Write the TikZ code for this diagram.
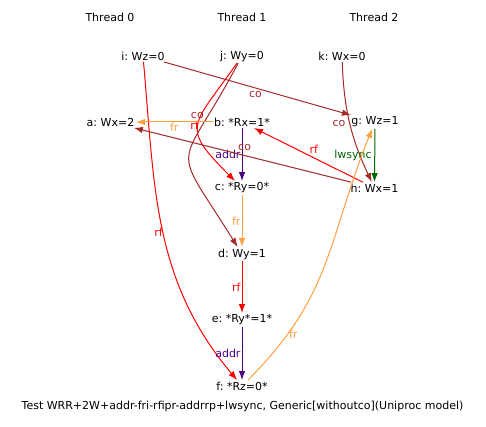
\documentclass[tikz,border=0pt]{standalone}
\usepackage{fontspec}
\setmainfont{DejaVu Sans}
\usetikzlibrary{arrows.meta}
\definecolor{CoBrown}{HTML}{A52A2A}
\definecolor{RfRed}{HTML}{FF0000}
\definecolor{FrOrange}{HTML}{FFA040}
\definecolor{AddrPurple}{HTML}{4B0082}
\definecolor{SyncGreen}{HTML}{006400}
\frenchspacing
\newcommand{\EvFont}{\fontsize{11}{13}\selectfont}
\newcommand{\EvNode}[4]{%
  \node[ev] (#1) at (#2,-#3) {#4};%
}

\begin{document}
\begin{tikzpicture}[x=1pt,y=1pt,
  ev/.style={inner sep=1.5pt,font=\EvFont},
  lbl/.style={inner sep=1pt,font=\EvFont},
  rel/.style={line width=1pt,-{Latex[length=9pt,width=6.5pt]}},
  co/.style={rel,color=CoBrown},
  rf/.style={rel,color=RfRed},
  fr/.style={rel,color=FrOrange},
  addr/.style={rel,color=AddrPurple},
  lwsync/.style={rel,color=SyncGreen}]
\useasboundingbox (0,0) rectangle (486,-427);
\foreach \x/\t in {110/0,242/1,374/2} {
  \node[ev] (thread\t) at (\x,-17) {Thread \t};
}
\EvNode{i}{143}{56}{i: Wz=0}
\EvNode{j}{242}{56}{j: Wy=0}
\EvNode{k}{342}{56}{k: Wx=0}
\EvNode{a}{110.5}{122}{a: Wx=2}
\EvNode{b}{242}{122}{b: *Rx=1*}
\EvNode{g}{375}{122}{g: Wz=1}
\EvNode{c}{242}{188}{c: *Ry=0*}
\EvNode{h}{374.5}{188}{h: Wx=1}
\EvNode{d}{242}{254}{d: Wy=1}
\EvNode{e}{242}{320}{e: *Ry*=1*}
\EvNode{f}{242}{386}{f: *Rz=0*}
\node[ev] (caption) at (242.5,-406) {Test WRR+2W+addr-fri-rfipr-addrrp+lwsync, Generic[withoutco](Uniproc model)};
\draw[co] (i) -- node[lbl,pos=0.49,below=2pt]{co} (g);
\draw[rf] (i) to[out=-85,in=130] node[lbl,pos=0.5,left=-1pt]{rf} (f);
\draw[rf] (j) to[out=-125,in=135,looseness=1.7] node[lbl,pos=0.5,left=-2pt]{rf} (c);
\draw[co] (j) to[out=-118,in=122,looseness=1.8] node[lbl,pos=0.2,left=3pt]{co} (d);
\draw[co] (k) to[out=-88,in=115] node[lbl,pos=0.5,left=3pt]{co} (h);
\draw[fr] (b) -- node[lbl,pos=0.5,below]{fr} (a);
\draw[addr] (b) -- node[lbl,pos=0.5,left]{addr} (c);
\draw[rf] (h) -- node[lbl,pos=0.45,above=3pt]{rf} (b);
\draw[co] (h) -- node[lbl,pos=0.49,above=3pt]{co} (a);
\draw[lwsync] (g) -- node[lbl,pos=0.5,left=1.5pt]{lwsync} (h);
\draw[fr] (c) -- node[lbl,left]{fr} (d);
\draw[rf] (d) -- node[lbl,left]{rf} (e);
\draw[addr] (e) -- node[lbl,left]{addr} (f);
\draw[fr] (f) to[out=45,in=-112,looseness=1.1] node[lbl,pos=0.19,right=0pt]{fr} (g);
\end{tikzpicture}
\end{document}
